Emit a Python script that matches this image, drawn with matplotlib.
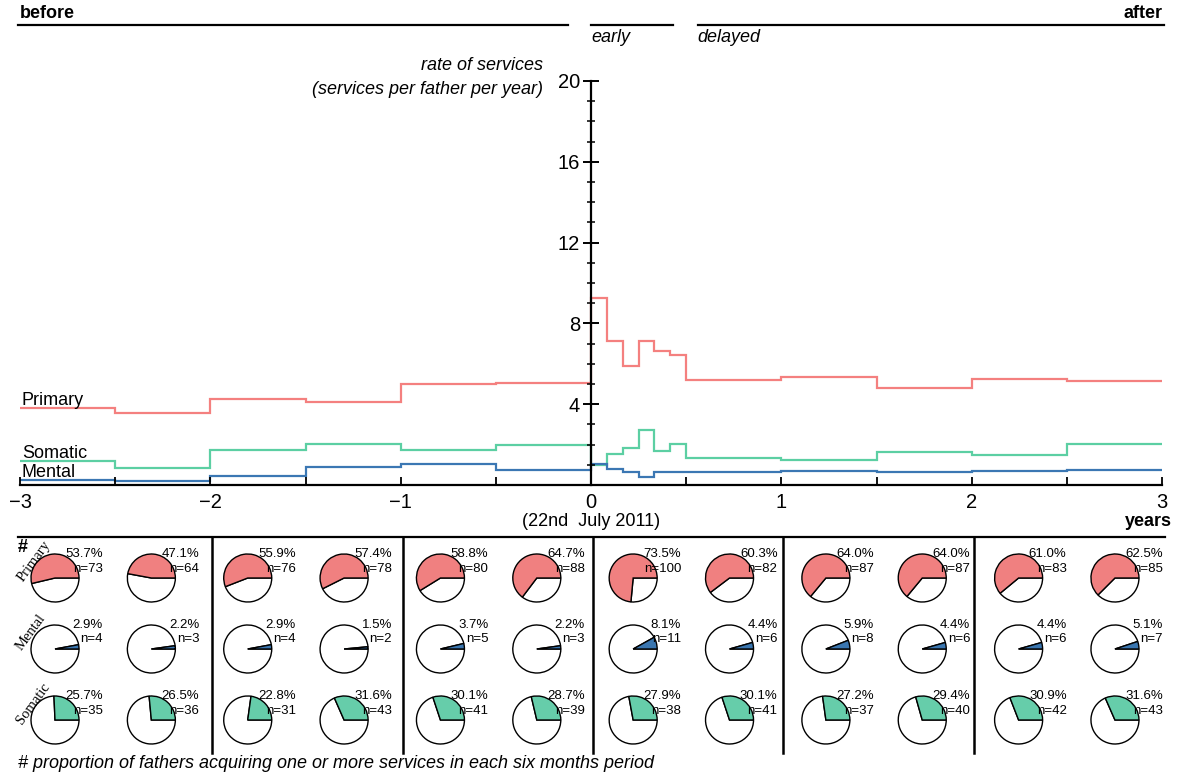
import numpy as np
import matplotlib.pyplot as plt
from matplotlib.patches import Wedge
from matplotlib.lines import Line2D
from matplotlib.ticker import MultipleLocator
from matplotlib.transforms import blended_transform_factory

plt.rcParams['font.family'] = ['Liberation Sans', 'DejaVu Sans']

# 期間の区切り（年, 0 = 22nd July 2011）
edges = [-3, -2.5, -2, -1.5, -1, -0.5, 0,
         1/12, 2/12, 3/12, 4/12, 5/12, 0.5, 1, 1.5, 2, 2.5, 3]

# サービス利用率（services per father per year）
primary_rate = [3.82, 3.58, 4.27, 4.12, 5.0, 5.03,
                9.26, 7.14, 5.9, 7.14, 6.61, 6.43,
                5.2, 5.34, 4.8, 5.27, 5.16]
somatic_rate = [1.21, 0.86, 1.73, 2.01, 1.73, 1.98,
                0.98, 1.55, 1.82, 2.72, 1.66, 2.03,
                1.36, 1.26, 1.64, 1.5, 2.05]
mental_rate = [0.25, 0.18, 0.45, 0.88, 1.05, 0.73,
               1.06, 0.77, 0.62, 0.42, 0.62, 0.66,
               0.66, 0.68, 0.63, 0.69, 0.76]

# 半年ごとの割合（%）と人数
primary_pct = [53.7, 47.1, 55.9, 57.4, 58.8, 64.7, 73.5, 60.3, 64.0, 64.0, 61.0, 62.5]
primary_n = [73, 64, 76, 78, 80, 88, 100, 82, 87, 87, 83, 85]
mental_pct = [2.9, 2.2, 2.9, 1.5, 3.7, 2.2, 8.1, 4.4, 5.9, 4.4, 4.4, 5.1]
mental_n = [4, 3, 4, 2, 5, 3, 11, 6, 8, 6, 6, 7]
somatic_pct = [25.7, 26.5, 22.8, 31.6, 30.1, 28.7, 27.9, 30.1, 27.2, 29.4, 30.9, 31.6]
somatic_n = [35, 36, 31, 43, 41, 39, 38, 41, 37, 40, 42, 43]

line_colors = {'Primary': '#f4807f', 'Somatic': '#5ccfa3', 'Mental': '#3b77b3'}
pie_colors = {'Primary': '#f08080', 'Mental': '#3a76b0', 'Somatic': '#66cdaa'}

W, H = 1177, 773
x0, x1 = 20, 1162          # x=-3, x=3 のピクセル位置
def fy(py):
    return 1 - py / H

fig = plt.figure(figsize=(W / 100, H / 100), dpi=100)
ax = fig.add_axes([x0 / W, fy(485), (x1 - x0) / W, (485 - 81) / H])

for name, rate in [('Primary', primary_rate), ('Somatic', somatic_rate), ('Mental', mental_rate)]:
    ax.stairs(rate, edges, baseline=None, color=line_colors[name], lw=1.6)
    ax.text(-2.99, rate[0] + 0.15, name, fontsize=13, va='baseline', ha='left')

ax.set_xlim(-3, 3)
ax.set_ylim(0, 20)
for s in ['top', 'right']:
    ax.spines[s].set_visible(False)
ax.spines['left'].set_position(('data', 0))
ax.spines['left'].set_linewidth(1.6)
ax.spines['bottom'].set_linewidth(1.6)
ax.xaxis.set_major_locator(MultipleLocator(1))
ax.xaxis.set_minor_locator(MultipleLocator(0.5))
ax.tick_params(axis='x', which='both', direction='in', length=5.5, width=1.3, labelsize=14.5, pad=6)
ax.set_yticks([4, 8, 12, 16, 20])
ax.yaxis.set_minor_locator(MultipleLocator(1))
ax.tick_params(axis='y', which='major', direction='inout', length=11.5, width=1.4, labelsize=14.5, pad=2)
ax.tick_params(axis='y', which='minor', direction='inout', length=5.5, width=1.1)

tr = blended_transform_factory(ax.transData, fig.transFigure)

# 上部の期間ヘッダー
for xa, xb in [(-3.01, -0.12), (0.0, 0.43), (0.56, 3.01)]:
    fig.add_artist(Line2D([xa, xb], [fy(25), fy(25)], transform=tr, color='black', lw=1.6))
fig.text(20 / W, fy(14), 'before', fontsize=13, fontweight='bold', va='center', ha='left')
fig.text(1163 / W, fy(14), 'after', fontsize=13, fontweight='bold', va='center', ha='right')
fig.text(0.0, fy(38), 'early', transform=tr, fontsize=13, style='italic', va='center', ha='left')
fig.text(0.56, fy(38), 'delayed', transform=tr, fontsize=13, style='italic', va='center', ha='left')

fig.text(543 / W, fy(66), 'rate of services', fontsize=13, style='italic', ha='right', va='center')
fig.text(543 / W, fy(89), '(services per father per year)', fontsize=13, style='italic', ha='right', va='center')

fig.text(0.0, fy(521), '(22nd  July 2011)', transform=tr, fontsize=13, ha='center', va='center')
fig.text(1172 / W, fy(521), 'years', fontsize=13, fontweight='bold', ha='right', va='center')

# 下段：円グラフ
pb, pt = 760, 537
axp = fig.add_axes([x0 / W, fy(pb), (x1 - x0) / W, (pb - pt) / H])
axp.axis('off')
u = 6 / (x1 - x0)
axp.set_xlim(-3, 3)
axp.set_ylim(0, (pb - pt) * u)

axp.add_line(Line2D([-3.01, 3.016], [(pb - pt) * u] * 2, color='black', lw=1.6, clip_on=False))
for yr in [-2, -1, 0, 1, 2]:
    axp.add_line(Line2D([yr + 0.01, yr + 0.01], [(pb - pt) * u, (pb - 753) * u],
                        color='black', lw=1.8, clip_on=False))

rows = [('Primary', primary_pct, primary_n, 578),
        ('Mental', mental_pct, mental_n, 649),
        ('Somatic', somatic_pct, somatic_n, 720)]
r = 24 * u
for name, pcts, ns, py in rows:
    cy = (pb - py) * u
    for k, (p, n) in enumerate(zip(pcts, ns)):
        cx = (55 + 96.36 * k - x0) * u - 3
        ang = p * 3.6
        axp.add_patch(Wedge((cx, cy), r, ang, 360, facecolor='white', edgecolor='black', lw=1.0))
        axp.add_patch(Wedge((cx, cy), r, 0, ang, facecolor=pie_colors[name], edgecolor='black', lw=1.0))
        axp.text(cx + 48 * u, cy + 24 * u, f'{p:.1f}%', fontsize=9.5, ha='right', va='center')
        axp.text(cx + 48 * u, cy + 9.5 * u, f'n={n}', fontsize=9.5, ha='right', va='center')

fig.text(23 / W, fy(548), '#', fontsize=13, fontweight='bold', ha='center', va='center')
for name, (px, py) in [('Primary', (34, 561)), ('Mental', (31, 632)), ('Somatic', (33, 704))]:
    fig.text(px / W, fy(py), name, fontsize=10.5, family='Liberation Serif', rotation=54,
             ha='center', va='center')

fig.text(18 / W, fy(763), '# proportion of fathers acquiring one or more services in each six months period',
         fontsize=13, style='italic', ha='left', va='center')

fig.savefig('out.png', dpi=100)
